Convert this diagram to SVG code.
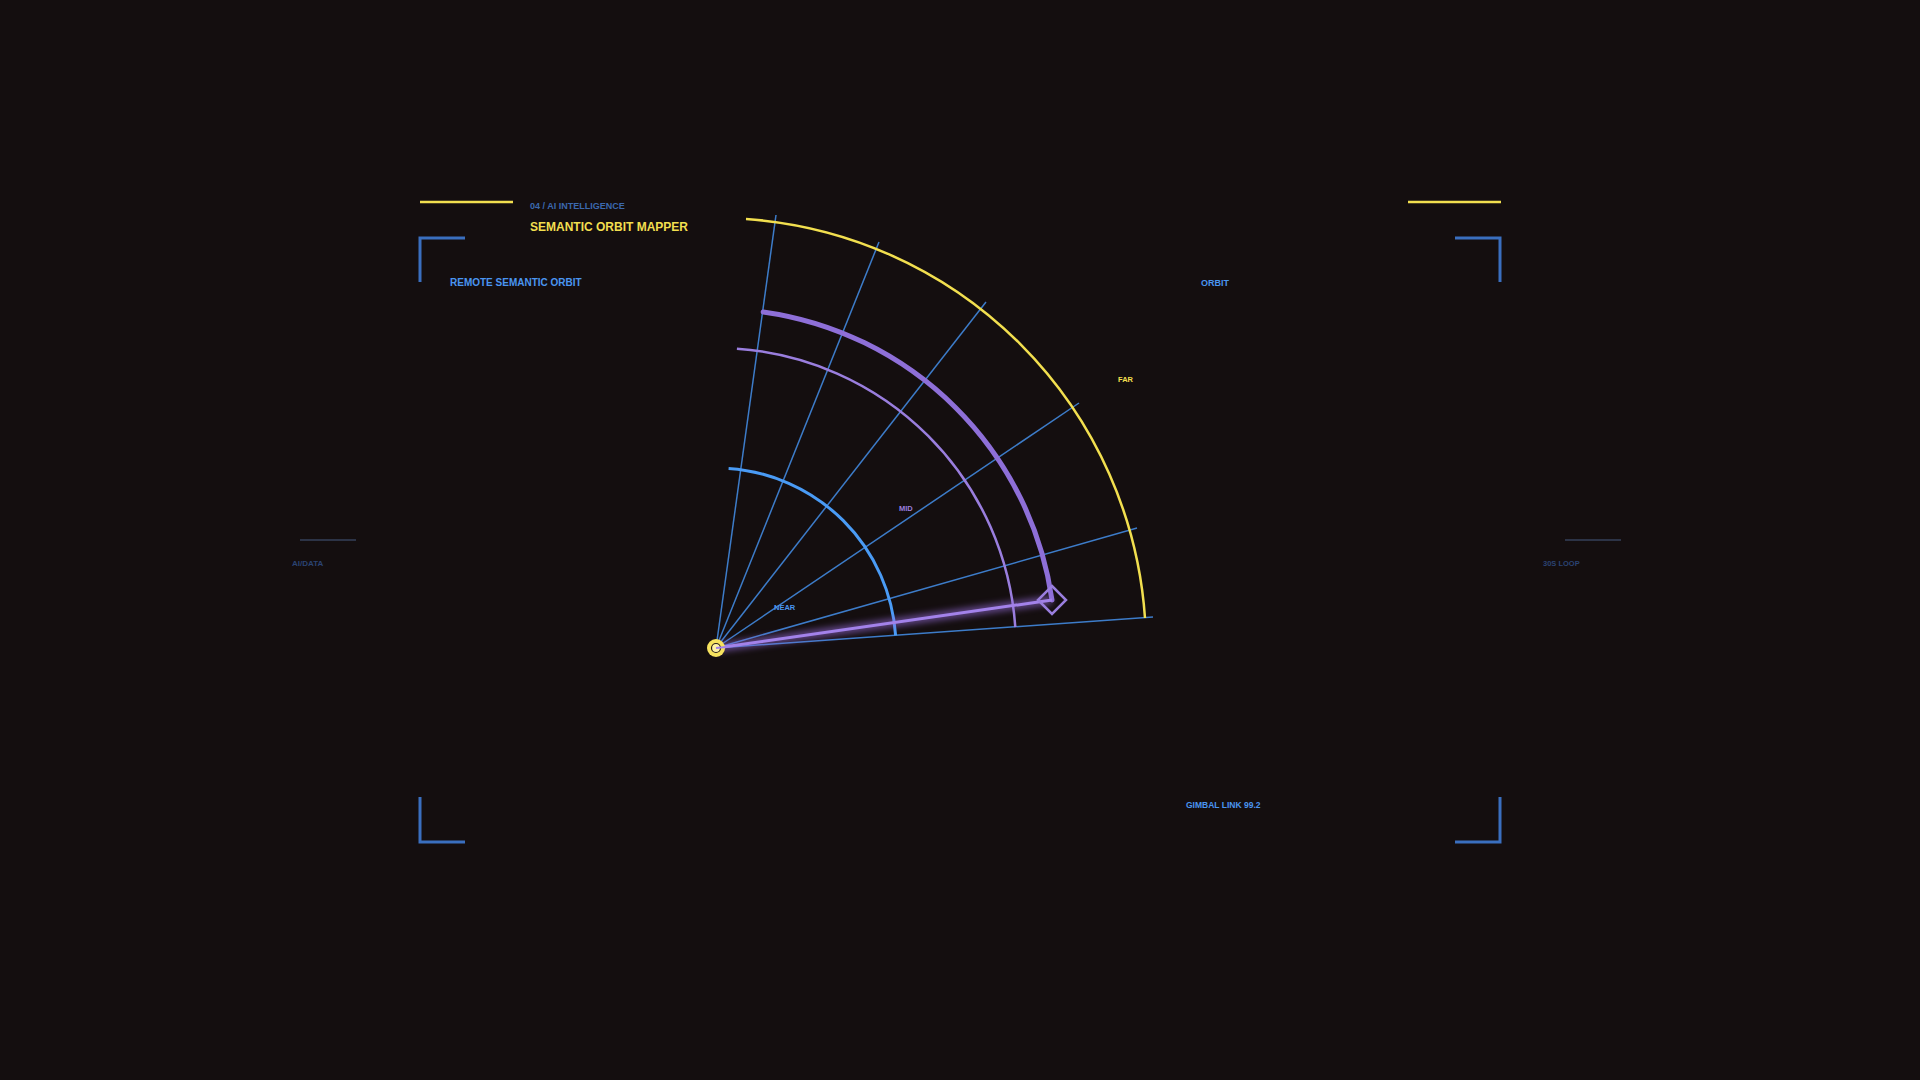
<svg xmlns="http://www.w3.org/2000/svg" width="1920" height="1080" viewBox="0 0 1920 1080">
<defs>
<style>
.t{font-family:"Liberation Sans",Arial,sans-serif;font-weight:700}
.ray{stroke:#3d7cc9;stroke-width:1.5;fill:none}
.brk{stroke:#3a6fbf;stroke-width:3;fill:none}
.ybar{stroke:#f2df4f;stroke-width:2.5}
.dimline{stroke:#34405a;stroke-width:1.5}
</style>
<filter id="glow" x="-20%" y="-200%" width="140%" height="500%">
<feGaussianBlur stdDeviation="3"/>
</filter>
</defs>
<rect width="1920" height="1080" fill="#140e0f"/>

<g id="frame">
<line class="ybar" x1="420" y1="202" x2="513" y2="202"/>
<line class="ybar" x1="1408" y1="202" x2="1501" y2="202"/>
<path class="brk" d="M420,282 V238 H465"/>
<path class="brk" d="M1455,238 H1500 V282"/>
<path class="brk" d="M420,797 V842 H465"/>
<path class="brk" d="M1455,842 H1500 V797"/>
<line class="dimline" x1="300" y1="540" x2="356" y2="540"/>
<line class="dimline" x1="1565" y1="540" x2="1621" y2="540"/>
</g>

<g id="labels">
<text class="t" x="530" y="209" font-size="9" fill="#3b68ad">04 / AI INTELLIGENCE</text>
<text class="t" x="530" y="231" font-size="12" fill="#f2df4f">SEMANTIC ORBIT MAPPER</text>
<text class="t" x="450" y="286" font-size="10" fill="#4a95f0">REMOTE SEMANTIC ORBIT</text>
<text class="t" x="1229" y="286" font-size="9" fill="#4a95f0" text-anchor="end">ORBIT</text>
<text class="t" x="1186" y="808" font-size="8.5" fill="#4a95f0">GIMBAL LINK 99.2</text>
<text class="t" x="292" y="566" font-size="8" fill="#2b4372">AI/DATA</text>
<text class="t" x="1543" y="566" font-size="7.5" fill="#2b4372">30S LOOP</text>
</g>

<g id="rays">
<line class="ray" x1="716" y1="648" x2="776" y2="215"/>
<line class="ray" x1="716" y1="648" x2="879" y2="242"/>
<line class="ray" x1="716" y1="648" x2="986" y2="302"/>
<line class="ray" x1="716" y1="648" x2="1079" y2="403"/>
<line class="ray" x1="716" y1="648" x2="1137" y2="528"/>
<line class="ray" x1="716" y1="648" x2="1153" y2="617"/>
</g>

<g id="ring-near">
<path d="M728.6,468.4 A180,180 0 0 1 895.6,635.4" fill="none" stroke="#4a9bf5" stroke-width="3"/>
<text class="t" x="774" y="610" font-size="7.5" fill="#4a95f0">NEAR</text>
</g>

<g id="ring-mid">
<path d="M736.9,348.7 A300,300 0 0 1 1015.3,627.1" fill="none" stroke="#9a7ede" stroke-width="2.5"/>
<text class="t" x="899" y="511" font-size="7.5" fill="#9a7ede">MID</text>
</g>

<g id="ring-far">
<path d="M746,219 A430,430 0 0 1 1145,618" fill="none" stroke="#f2df4f" stroke-width="2.5"/>
<text class="t" x="1118" y="382" font-size="7.5" fill="#f2df4f">FAR</text>
</g>

<g id="orbit-path">
<path d="M763.2,311.9 A339.4,339.4 0 0 1 1052,600" fill="none" stroke="#8e6fd8" stroke-width="5" stroke-linecap="round"/>
</g>

<g id="beam">
<line x1="716" y1="648" x2="1052" y2="600" stroke="#9a6fe0" stroke-width="9" opacity="0.55" filter="url(#glow)"/>
<line x1="716" y1="648" x2="1052" y2="600" stroke="#a382ea" stroke-width="3"/>
</g>

<g id="target">
<path d="M1052,586 L1066,600 L1052,614 L1038,600 Z" fill="none" stroke="#9a7ede" stroke-width="2.5"/>
</g>

<g id="origin">
<circle cx="716" cy="648" r="9" fill="#f7e35e"/>
<circle cx="716" cy="648" r="4.5" fill="#fff3a6" stroke="#2a1e1a" stroke-width="1.2"/>
<line x1="716" y1="648" x2="726" y2="647" stroke="#a382ea" stroke-width="2"/>
</g>
</svg>
